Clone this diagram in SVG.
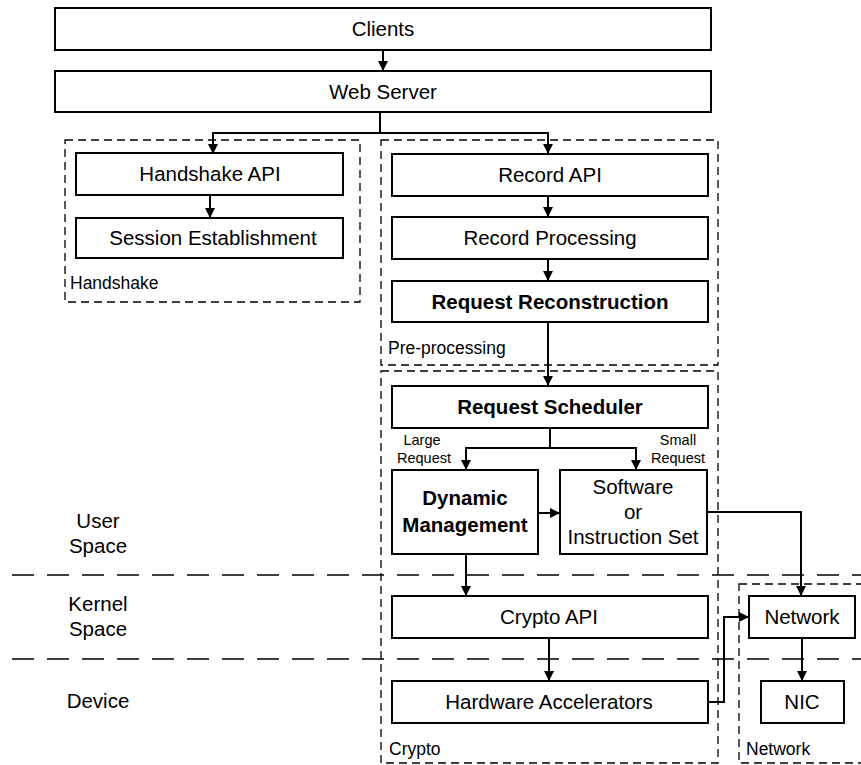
<svg xmlns="http://www.w3.org/2000/svg" width="861" height="765" viewBox="0 0 861 765">
  <style>
    text { font-family: "Liberation Sans", Arial, sans-serif; fill: #000; }
    .box { fill: #fff; stroke: #000; stroke-width: 2; }
    .lbl { font-size: 20.5px; text-anchor: middle; }
    .bold { font-weight: bold; }
    .small { font-size: 14.5px; text-anchor: middle; }
    .group { fill: none; stroke: #000; stroke-width: 1.3; stroke-dasharray: 8 5; }
    .grouplbl { font-size: 17.5px; }
    .layer { fill: none; stroke: #000; stroke-width: 1.4; stroke-dasharray: 22 13; }
    .layerlbl { font-size: 20.5px; text-anchor: middle; }
    .wire { fill: none; stroke: #000; stroke-width: 2; }
  </style>
  <defs>
    <marker id="arrow" markerWidth="10" markerHeight="10" refX="9" refY="5" orient="auto" markerUnits="userSpaceOnUse">
      <path d="M0,0 L10,5 L0,10 Z" fill="#000"/>
    </marker>
  </defs>

  <rect width="861" height="765" fill="#fff"/>

  <!-- layer separators -->
  <g id="layers">
    <line class="layer" x1="12" y1="575" x2="861" y2="575"/>
    <line class="layer" x1="12" y1="659" x2="861" y2="659"/>
    <text class="layerlbl" x="98" y="528">User</text>
    <text class="layerlbl" x="98" y="553">Space</text>
    <text class="layerlbl" x="98" y="611">Kernel</text>
    <text class="layerlbl" x="98" y="636">Space</text>
    <text class="layerlbl" x="98" y="708">Device</text>
  </g>

  <!-- dashed groupings -->
  <g id="grp-handshake">
    <rect class="group" x="65" y="140" width="295" height="162"/>
    <text class="grouplbl" x="70" y="289">Handshake</text>
  </g>
  <g id="grp-preprocessing">
    <rect class="group" x="381" y="140" width="337" height="225"/>
    <text class="grouplbl" x="388" y="354">Pre-processing</text>
  </g>
  <g id="grp-crypto">
    <rect class="group" x="381" y="371" width="337" height="392"/>
    <text class="grouplbl" x="389" y="755">Crypto</text>
  </g>
  <g id="grp-network">
    <rect class="group" x="739" y="584" width="130" height="179"/>
    <text class="grouplbl" x="746" y="755">Network</text>
  </g>

  <!-- connectors -->
  <g id="connectors">
    <line class="wire" x1="383" y1="50" x2="383" y2="70" marker-end="url(#arrow)"/>
    <polyline class="wire" points="380,112 380,133 213,133 213,153" marker-end="url(#arrow)"/>
    <polyline class="wire" points="380,133 548,133 548,153" marker-end="url(#arrow)"/>
    <line class="wire" x1="210" y1="195" x2="210" y2="217" marker-end="url(#arrow)"/>
    <line class="wire" x1="548" y1="196" x2="548" y2="216" marker-end="url(#arrow)"/>
    <line class="wire" x1="548" y1="259" x2="548" y2="280" marker-end="url(#arrow)"/>
    <line class="wire" x1="548" y1="322" x2="548" y2="385" marker-end="url(#arrow)"/>
    <polyline class="wire" points="550,428 550,448 466,448 466,469" marker-end="url(#arrow)"/>
    <polyline class="wire" points="550,448 636,448 636,469" marker-end="url(#arrow)"/>
    <line class="wire" x1="538" y1="513" x2="559" y2="513" marker-end="url(#arrow)"/>
    <polyline class="wire" points="707,512 801,512 801,595" marker-end="url(#arrow)"/>
    <line class="wire" x1="466" y1="554" x2="466" y2="595" marker-end="url(#arrow)"/>
    <line class="wire" x1="549" y1="638" x2="549" y2="680" marker-end="url(#arrow)"/>
    <polyline class="wire" points="708,702 724,702 724,617 748,617" marker-end="url(#arrow)"/>
    <line class="wire" x1="802" y1="638" x2="802" y2="680" marker-end="url(#arrow)"/>
  </g>

  <!-- nodes -->
  <g id="clients">
    <rect class="box" x="55" y="8" width="656" height="42"/>
    <text class="lbl" x="383" y="36">Clients</text>
  </g>
  <g id="web-server">
    <rect class="box" x="55" y="71" width="656" height="41"/>
    <text class="lbl" x="383" y="99">Web Server</text>
  </g>
  <g id="handshake-api">
    <rect class="box" x="76" y="153" width="267" height="42"/>
    <text class="lbl" x="210" y="181">Handshake API</text>
  </g>
  <g id="session-establishment">
    <rect class="box" x="76" y="218" width="267" height="40"/>
    <text class="lbl" x="213" y="245">Session Establishment</text>
  </g>
  <g id="record-api">
    <rect class="box" x="392" y="154" width="316" height="42"/>
    <text class="lbl" x="550" y="182">Record API</text>
  </g>
  <g id="record-processing">
    <rect class="box" x="392" y="217" width="316" height="42"/>
    <text class="lbl" x="550" y="245">Record Processing</text>
  </g>
  <g id="request-reconstruction">
    <rect class="box" x="392" y="281" width="316" height="41"/>
    <text class="lbl bold" x="550" y="309">Request Reconstruction</text>
  </g>
  <g id="request-scheduler">
    <rect class="box" x="392" y="386" width="316" height="42"/>
    <text class="lbl bold" x="550" y="414">Request Scheduler</text>
  </g>
  <g id="size-labels">
    <text class="small" x="422" y="445">Large</text>
    <text class="small" x="424" y="463">Request</text>
    <text class="small" x="678" y="445">Small</text>
    <text class="small" x="678" y="463">Request</text>
  </g>
  <g id="dynamic-management">
    <rect class="box" x="392" y="470" width="146" height="84"/>
    <text class="lbl bold" x="465" y="505">Dynamic</text>
    <text class="lbl bold" x="465" y="532">Management</text>
  </g>
  <g id="software">
    <rect class="box" x="560" y="470" width="147" height="84"/>
    <text class="lbl" x="633" y="494">Software</text>
    <text class="lbl" x="633" y="519">or</text>
    <text class="lbl" x="633" y="544">Instruction Set</text>
  </g>
  <g id="crypto-api">
    <rect class="box" x="392" y="596" width="316" height="42"/>
    <text class="lbl" x="549" y="624">Crypto API</text>
  </g>
  <g id="hardware-accelerators">
    <rect class="box" x="392" y="681" width="316" height="42"/>
    <text class="lbl" x="549" y="709">Hardware Accelerators</text>
  </g>
  <g id="network">
    <rect class="box" x="749" y="596" width="106" height="42"/>
    <text class="lbl" x="802" y="624">Network</text>
  </g>
  <g id="nic">
    <rect class="box" x="761" y="681" width="83" height="42"/>
    <text class="lbl" x="802" y="709">NIC</text>
  </g>
</svg>
